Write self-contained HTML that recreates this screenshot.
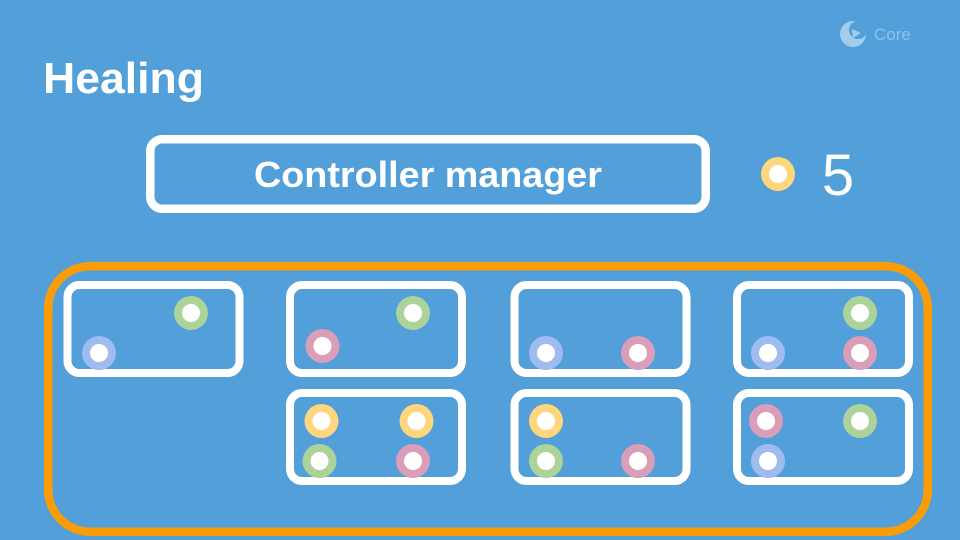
<!DOCTYPE html>
<html>
<head>
<meta charset="utf-8">
<style>
html,body{margin:0;padding:0;background:#529fd9;}
svg{display:block;}
</style>
</head>
<body>
<svg width="960" height="540" viewBox="0 0 960 540" xmlns="http://www.w3.org/2000/svg">
<defs>
<g id="b"><circle r="17" fill="#9fbcf0"/><circle r="9" fill="#fff"/></g>
<g id="g"><circle r="17" fill="#abd39a"/><circle r="9" fill="#fff"/></g>
<g id="r"><circle r="17" fill="#da9eb9"/><circle r="9" fill="#fff"/></g>
<g id="y"><circle r="17" fill="#fdd67e"/><circle r="9" fill="#fff"/></g>
</defs>
<rect width="960" height="540" fill="#529fd9"/>
<text x="43" y="93" font-family="'Liberation Sans',sans-serif" font-weight="700" font-size="44" fill="#fff" textLength="161" lengthAdjust="spacingAndGlyphs">Healing</text>

<circle cx="853" cy="34" r="13" fill="#a3cdeb"/>
<circle cx="858" cy="30" r="9" fill="#529fd9"/>
<path d="M852 29l9 4-8 5z" fill="#a3cdeb"/>
<text x="874" y="40" font-family="'Liberation Sans',sans-serif" font-size="17" fill="#8fc1e6">Core</text>

<rect x="150.250" y="139.250" width="555.500" height="69.500" rx="12" fill="none" stroke="#fff" stroke-width="8.500"/>
<text x="428" y="187" text-anchor="middle" font-family="'Liberation Sans',sans-serif" font-weight="700" font-size="36" fill="#fff" textLength="348" lengthAdjust="spacingAndGlyphs">Controller manager</text>

<use href="#y" x="778" y="174"/>
<text x="838" y="195" text-anchor="middle" font-family="'Liberation Sans',sans-serif" font-size="58" fill="#fff">5</text>

<rect x="48.250" y="266.250" width="879.500" height="265.500" rx="42" fill="none" stroke="#f99c07" stroke-width="8.500"/>

<g fill="none" stroke="#fff" stroke-width="8">
<rect x="67.500" y="285" width="172" height="88" rx="12"/>
<rect x="290" y="285" width="172" height="88" rx="12"/>
<rect x="514.500" y="285" width="172" height="88" rx="12"/>
<rect x="737" y="285" width="172" height="88" rx="12"/>
<rect x="290" y="393" width="172" height="88" rx="12"/>
<rect x="514.500" y="393" width="172" height="88" rx="12"/>
<rect x="737" y="393" width="172" height="88" rx="12"/>
</g>

<use href="#g" x="191" y="313"/>
<use href="#b" x="99" y="353"/>

<use href="#g" x="413" y="313"/>
<use href="#r" x="322.500" y="346"/>

<use href="#b" x="546" y="353"/>
<use href="#r" x="638" y="353"/>

<use href="#g" x="860" y="313"/>
<use href="#b" x="768" y="353"/>
<use href="#r" x="860" y="353"/>

<use href="#y" x="321.500" y="421"/>
<use href="#y" x="416.500" y="421"/>
<use href="#g" x="319.500" y="461"/>
<use href="#r" x="413" y="461"/>

<use href="#y" x="546" y="421"/>
<use href="#g" x="546" y="461"/>
<use href="#r" x="638" y="461"/>

<use href="#r" x="766" y="421"/>
<use href="#g" x="860" y="421"/>
<use href="#b" x="768" y="461"/>
</svg>
</body>
</html>
